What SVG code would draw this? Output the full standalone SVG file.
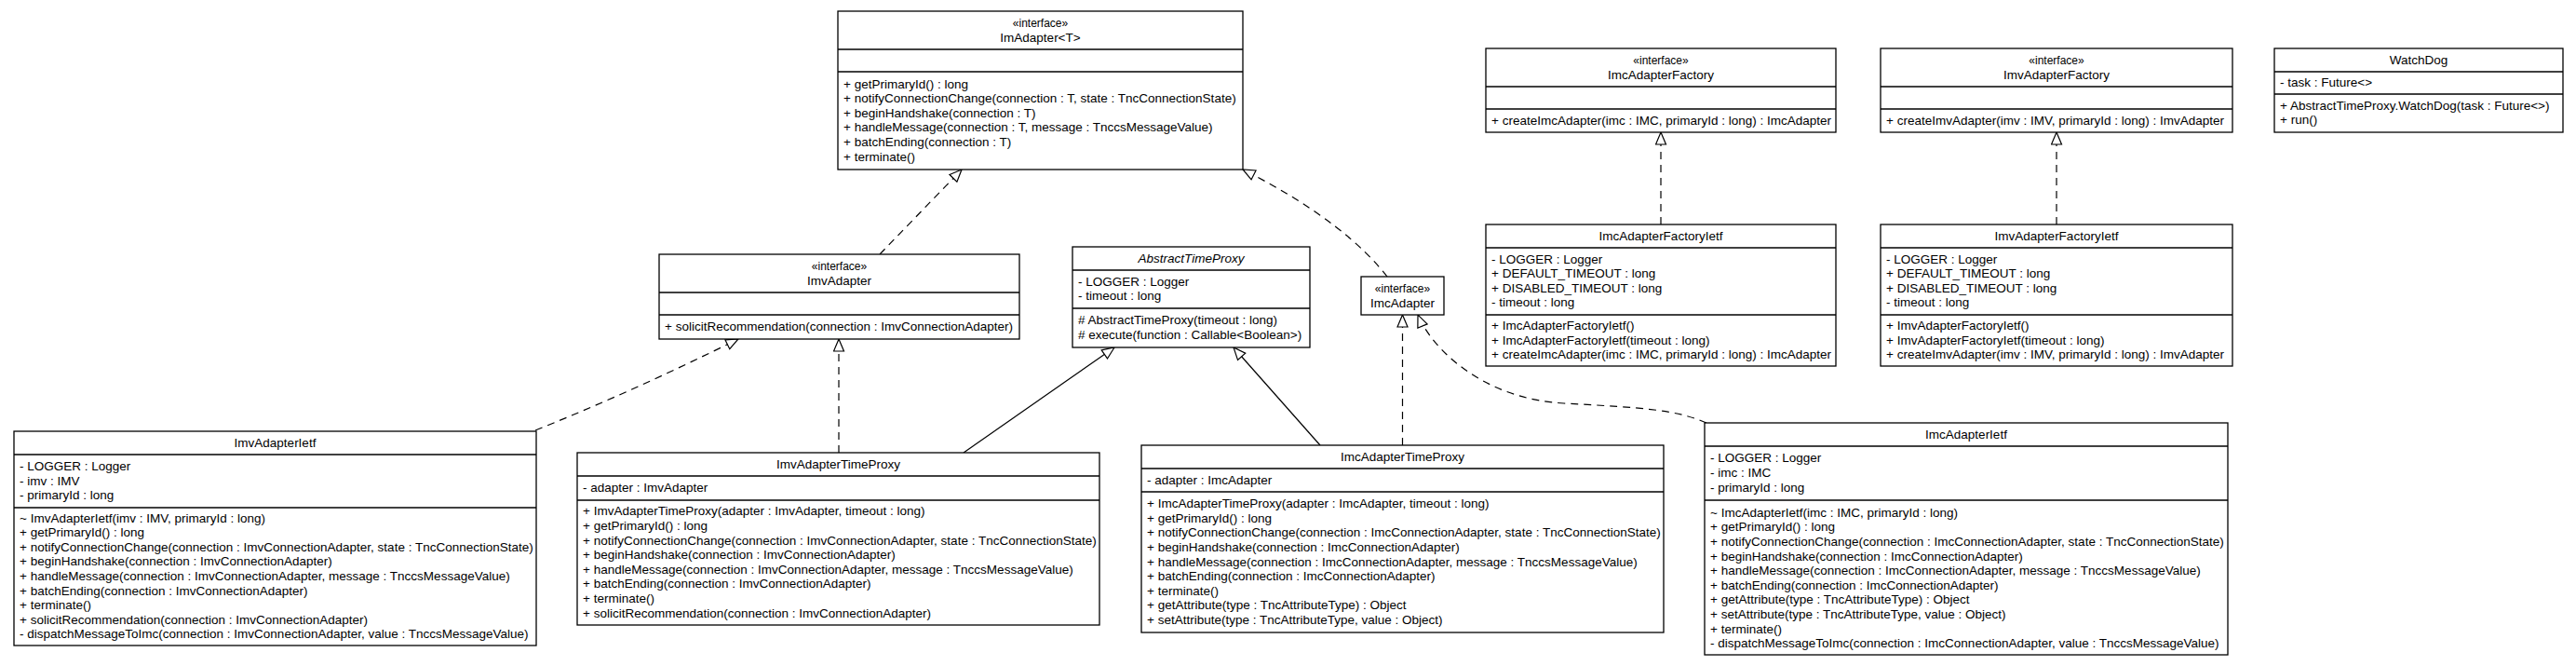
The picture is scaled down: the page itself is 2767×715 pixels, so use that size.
<svg xmlns="http://www.w3.org/2000/svg" width="2767" height="715" viewBox="0 0 2767 715">
<style>
.box{fill:#fff;stroke:#000;stroke-width:1.3}
.sep{stroke:#000;stroke-width:1.3}
text{font-family:"Liberation Sans",Arial,Helvetica,sans-serif;font-size:13.5px;fill:#000}
.st{font-size:12px}
.c{text-anchor:middle}
.it{font-style:italic}
.dash{fill:none;stroke:#000;stroke-width:1.2;stroke-dasharray:8,6;marker-end:url(#tri)}
.solid{fill:none;stroke:#000;stroke-width:1.2;marker-end:url(#tri)}
.head{fill:#fff;stroke:#000;stroke-width:1.2}
</style>
<defs>
<marker id="tri" markerWidth="15" markerHeight="13" refX="14" refY="6.5" orient="auto" markerUnits="userSpaceOnUse">
<path class="head" d="M1,1 L14,6.5 L1,12 Z"/>
</marker>
</defs>
<rect width="2767" height="715" fill="#fff"/>

<g id="connectors">
<path class="dash" d="M945,273 L1033,182"/>
<path class="dash" d="M1490,297 C1465,265 1420,225 1335,182"/>
<path class="dash" d="M1784,241 L1784,142"/>
<path class="dash" d="M2209,241 L2209,142"/>
<path class="dash" d="M575,462 C650,432 720,400 793,364"/>
<path class="dash" d="M901,486 L901,364"/>
<path class="solid" d="M1035,486 L1197,373"/>
<path class="solid" d="M1418,478 L1325,373"/>
<path class="dash" d="M1506.5,478 L1506.5,338"/>
<path class="dash" d="M1833,454 C1800,440 1770,438 1680,433 C1590,428 1537,372 1523,338"/>
</g>

<g id="ImAdapter">
<rect class="box" x="900" y="12" width="435" height="170"/>
<line class="sep" x1="900" y1="53" x2="1335" y2="53"/>
<line class="sep" x1="900" y1="77" x2="1335" y2="77"/>
<text class="st c" x="1117.5" y="28.5">«interface»</text>
<text class="c" x="1117.5" y="45">ImAdapter&lt;T&gt;</text>
<text x="906" y="94.5"><tspan x="906">+ getPrimaryId() : long</tspan><tspan x="906" dy="15.6">+ notifyConnectionChange(connection : T, state : TncConnectionState)</tspan><tspan x="906" dy="15.6">+ beginHandshake(connection : T)</tspan><tspan x="906" dy="15.6">+ handleMessage(connection : T, message : TnccsMessageValue)</tspan><tspan x="906" dy="15.6">+ batchEnding(connection : T)</tspan><tspan x="906" dy="15.6">+ terminate()</tspan></text>
</g>

<g id="ImcAdapterFactory">
<rect class="box" x="1596" y="52" width="376" height="90"/>
<line class="sep" x1="1596" y1="93" x2="1972" y2="93"/>
<line class="sep" x1="1596" y1="117" x2="1972" y2="117"/>
<text class="st c" x="1784" y="68.5">«interface»</text>
<text class="c" x="1784" y="85">ImcAdapterFactory</text>
<text x="1602" y="133.5">+ createImcAdapter(imc : IMC, primaryId : long) : ImcAdapter</text>
</g>

<g id="ImvAdapterFactory">
<rect class="box" x="2020" y="52" width="378" height="90"/>
<line class="sep" x1="2020" y1="93" x2="2398" y2="93"/>
<line class="sep" x1="2020" y1="117" x2="2398" y2="117"/>
<text class="st c" x="2209" y="68.5">«interface»</text>
<text class="c" x="2209" y="85">ImvAdapterFactory</text>
<text x="2026" y="133.5">+ createImvAdapter(imv : IMV, primaryId : long) : ImvAdapter</text>
</g>

<g id="WatchDog">
<rect class="box" x="2443" y="52" width="310" height="90"/>
<line class="sep" x1="2443" y1="77" x2="2753" y2="77"/>
<line class="sep" x1="2443" y1="101" x2="2753" y2="101"/>
<text class="c" x="2598" y="68.5">WatchDog</text>
<text x="2449" y="93">- task : Future&lt;&gt;</text>
<text x="2449" y="117.7"><tspan x="2449">+ AbstractTimeProxy.WatchDog(task : Future&lt;&gt;)</tspan><tspan x="2449" dy="15.6">+ run()</tspan></text>
</g>

<g id="ImcAdapterFactoryIetf">
<rect class="box" x="1596" y="241" width="376" height="152"/>
<line class="sep" x1="1596" y1="266" x2="1972" y2="266"/>
<line class="sep" x1="1596" y1="338" x2="1972" y2="338"/>
<text class="c" x="1784" y="257.5">ImcAdapterFactoryIetf</text>
<text x="1602" y="282.6"><tspan x="1602">- LOGGER : Logger</tspan><tspan x="1602" dy="15.6">+ DEFAULT_TIMEOUT : long</tspan><tspan x="1602" dy="15.6">+ DISABLED_TIMEOUT : long</tspan><tspan x="1602" dy="15.6">- timeout : long</tspan></text>
<text x="1602" y="353.9"><tspan x="1602">+ ImcAdapterFactoryIetf()</tspan><tspan x="1602" dy="15.6">+ ImcAdapterFactoryIetf(timeout : long)</tspan><tspan x="1602" dy="15.6">+ createImcAdapter(imc : IMC, primaryId : long) : ImcAdapter</tspan></text>
</g>

<g id="ImvAdapterFactoryIetf">
<rect class="box" x="2020" y="241" width="378" height="152"/>
<line class="sep" x1="2020" y1="266" x2="2398" y2="266"/>
<line class="sep" x1="2020" y1="338" x2="2398" y2="338"/>
<text class="c" x="2209" y="257.5">ImvAdapterFactoryIetf</text>
<text x="2026" y="282.6"><tspan x="2026">- LOGGER : Logger</tspan><tspan x="2026" dy="15.6">+ DEFAULT_TIMEOUT : long</tspan><tspan x="2026" dy="15.6">+ DISABLED_TIMEOUT : long</tspan><tspan x="2026" dy="15.6">- timeout : long</tspan></text>
<text x="2026" y="353.9"><tspan x="2026">+ ImvAdapterFactoryIetf()</tspan><tspan x="2026" dy="15.6">+ ImvAdapterFactoryIetf(timeout : long)</tspan><tspan x="2026" dy="15.6">+ createImvAdapter(imv : IMV, primaryId : long) : ImvAdapter</tspan></text>
</g>

<g id="ImvAdapter">
<rect class="box" x="708" y="273" width="387" height="91"/>
<line class="sep" x1="708" y1="314" x2="1095" y2="314"/>
<line class="sep" x1="708" y1="338" x2="1095" y2="338"/>
<text class="st c" x="901.5" y="289.5">«interface»</text>
<text class="c" x="901.5" y="306">ImvAdapter</text>
<text x="714" y="355">+ solicitRecommendation(connection : ImvConnectionAdapter)</text>
</g>

<g id="AbstractTimeProxy">
<rect class="box" x="1152" y="265" width="255" height="108"/>
<line class="sep" x1="1152" y1="290" x2="1407" y2="290"/>
<line class="sep" x1="1152" y1="331" x2="1407" y2="331"/>
<text class="c it" x="1279.5" y="281.5">AbstractTimeProxy</text>
<text x="1158" y="306.7"><tspan x="1158">- LOGGER : Logger</tspan><tspan x="1158" dy="15.6">- timeout : long</tspan></text>
<text x="1158" y="348.2"><tspan x="1158"># AbstractTimeProxy(timeout : long)</tspan><tspan x="1158" dy="15.6"># execute(function : Callable&lt;Boolean&gt;)</tspan></text>
</g>

<g id="ImcAdapter">
<rect class="box" x="1462" y="297" width="89" height="41"/>
<text class="st c" x="1506.5" y="313.5">«interface»</text>
<text class="c" x="1506.5" y="330">ImcAdapter</text>
</g>

<g id="ImvAdapterIetf">
<rect class="box" x="15" y="463" width="561" height="230"/>
<line class="sep" x1="15" y1="488" x2="576" y2="488"/>
<line class="sep" x1="15" y1="545" x2="576" y2="545"/>
<text class="c" x="295.5" y="479.5">ImvAdapterIetf</text>
<text x="21" y="504.9"><tspan x="21">- LOGGER : Logger</tspan><tspan x="21" dy="15.6">- imv : IMV</tspan><tspan x="21" dy="15.6">- primaryId : long</tspan></text>
<text x="21" y="560.6"><tspan x="21">~ ImvAdapterIetf(imv : IMV, primaryId : long)</tspan><tspan x="21" dy="15.6">+ getPrimaryId() : long</tspan><tspan x="21" dy="15.6">+ notifyConnectionChange(connection : ImvConnectionAdapter, state : TncConnectionState)</tspan><tspan x="21" dy="15.6">+ beginHandshake(connection : ImvConnectionAdapter)</tspan><tspan x="21" dy="15.6">+ handleMessage(connection : ImvConnectionAdapter, message : TnccsMessageValue)</tspan><tspan x="21" dy="15.6">+ batchEnding(connection : ImvConnectionAdapter)</tspan><tspan x="21" dy="15.6">+ terminate()</tspan><tspan x="21" dy="15.6">+ solicitRecommendation(connection : ImvConnectionAdapter)</tspan><tspan x="21" dy="15.6">- dispatchMessageToImc(connection : ImvConnectionAdapter, value : TnccsMessageValue)</tspan></text>
</g>

<g id="ImvAdapterTimeProxy">
<rect class="box" x="620" y="486" width="561" height="185"/>
<line class="sep" x1="620" y1="511" x2="1181" y2="511"/>
<line class="sep" x1="620" y1="537" x2="1181" y2="537"/>
<text class="c" x="900.5" y="502.5">ImvAdapterTimeProxy</text>
<text x="626" y="528">- adapter : ImvAdapter</text>
<text x="626" y="553.4"><tspan x="626">+ ImvAdapterTimeProxy(adapter : ImvAdapter, timeout : long)</tspan><tspan x="626" dy="15.6">+ getPrimaryId() : long</tspan><tspan x="626" dy="15.6">+ notifyConnectionChange(connection : ImvConnectionAdapter, state : TncConnectionState)</tspan><tspan x="626" dy="15.6">+ beginHandshake(connection : ImvConnectionAdapter)</tspan><tspan x="626" dy="15.6">+ handleMessage(connection : ImvConnectionAdapter, message : TnccsMessageValue)</tspan><tspan x="626" dy="15.6">+ batchEnding(connection : ImvConnectionAdapter)</tspan><tspan x="626" dy="15.6">+ terminate()</tspan><tspan x="626" dy="15.6">+ solicitRecommendation(connection : ImvConnectionAdapter)</tspan></text>
</g>

<g id="ImcAdapterTimeProxy">
<rect class="box" x="1226" y="478" width="561" height="201"/>
<line class="sep" x1="1226" y1="503" x2="1787" y2="503"/>
<line class="sep" x1="1226" y1="528" x2="1787" y2="528"/>
<text class="c" x="1506.5" y="494.5">ImcAdapterTimeProxy</text>
<text x="1232" y="519.5">- adapter : ImcAdapter</text>
<text x="1232" y="545.1"><tspan x="1232">+ ImcAdapterTimeProxy(adapter : ImcAdapter, timeout : long)</tspan><tspan x="1232" dy="15.6">+ getPrimaryId() : long</tspan><tspan x="1232" dy="15.6">+ notifyConnectionChange(connection : ImcConnectionAdapter, state : TncConnectionState)</tspan><tspan x="1232" dy="15.6">+ beginHandshake(connection : ImcConnectionAdapter)</tspan><tspan x="1232" dy="15.6">+ handleMessage(connection : ImcConnectionAdapter, message : TnccsMessageValue)</tspan><tspan x="1232" dy="15.6">+ batchEnding(connection : ImcConnectionAdapter)</tspan><tspan x="1232" dy="15.6">+ terminate()</tspan><tspan x="1232" dy="15.6">+ getAttribute(type : TncAttributeType) : Object</tspan><tspan x="1232" dy="15.6">+ setAttribute(type : TncAttributeType, value : Object)</tspan></text>
</g>

<g id="ImcAdapterIetf">
<rect class="box" x="1831" y="454" width="562" height="249"/>
<line class="sep" x1="1831" y1="479" x2="2393" y2="479"/>
<line class="sep" x1="1831" y1="537" x2="2393" y2="537"/>
<text class="c" x="2112" y="470.5">ImcAdapterIetf</text>
<text x="1837" y="496.4"><tspan x="1837">- LOGGER : Logger</tspan><tspan x="1837" dy="15.6">- imc : IMC</tspan><tspan x="1837" dy="15.6">- primaryId : long</tspan></text>
<text x="1837" y="554.8"><tspan x="1837">~ ImcAdapterIetf(imc : IMC, primaryId : long)</tspan><tspan x="1837" dy="15.6">+ getPrimaryId() : long</tspan><tspan x="1837" dy="15.6">+ notifyConnectionChange(connection : ImcConnectionAdapter, state : TncConnectionState)</tspan><tspan x="1837" dy="15.6">+ beginHandshake(connection : ImcConnectionAdapter)</tspan><tspan x="1837" dy="15.6">+ handleMessage(connection : ImcConnectionAdapter, message : TnccsMessageValue)</tspan><tspan x="1837" dy="15.6">+ batchEnding(connection : ImcConnectionAdapter)</tspan><tspan x="1837" dy="15.6">+ getAttribute(type : TncAttributeType) : Object</tspan><tspan x="1837" dy="15.6">+ setAttribute(type : TncAttributeType, value : Object)</tspan><tspan x="1837" dy="15.6">+ terminate()</tspan><tspan x="1837" dy="15.6">- dispatchMessageToImc(connection : ImcConnectionAdapter, value : TnccsMessageValue)</tspan></text>
</g>
</svg>
